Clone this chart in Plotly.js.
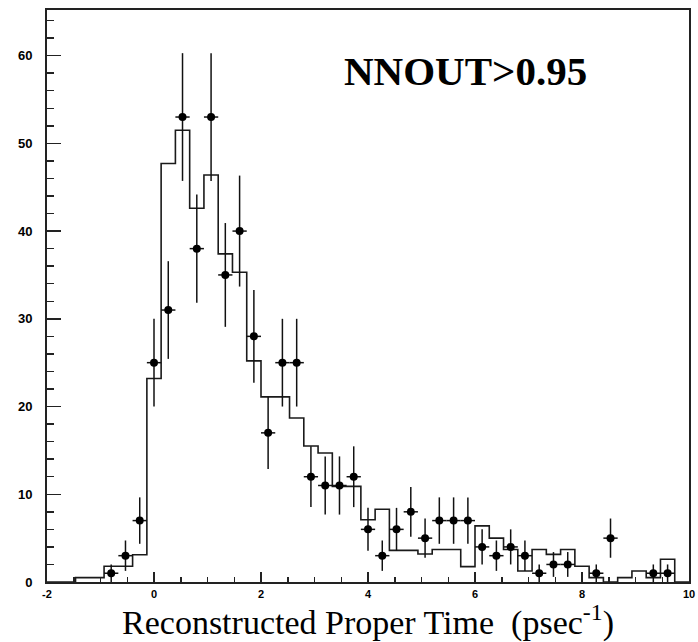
<!DOCTYPE html>
<html>
<head>
<meta charset="utf-8">
<script src="https://cdn.plot.ly/plotly-3.0.1.min.js"></script>
<style>
  html, body { margin: 0; padding: 0; background: #fff; }
  #chart { width: 698px; height: 642px; }
</style>
</head>
<body>
<div id="chart"></div>
<script>
// Histogram binning (45 bins from -2 to 10 psec)
const binStart = -2;
const binEnd = 10;
const nBins = 45;

// Monte Carlo expectation (step histogram), one value per bin
const mcCounts = [
  0, 0, 0.5, 0.5, 1.8, 1.8, 3.1, 23.2, 47.7, 51.5,
  42.6, 46.4, 37.4, 35.3, 25.2, 21.1, 21.1, 18.7, 15.5, 14.7,
  10.9, 10.9, 7.1, 8.3, 3.6, 3.6, 3.2, 3.7, 3.7, 1.75,
  6.4, 5.0, 3.7, 1.25, 3.7, 3.15, 3.7, 1.8, 0.5, 0,
  0.5, 1.25, 0.5, 2.6, 0
];

// Data points: bin centres (psec) and event counts
const dataTime = [
  -0.8, -0.533, -0.267, 0.0, 0.267, 0.533, 0.8, 1.067, 1.333, 1.6,
  1.867, 2.133, 2.4, 2.667, 2.933, 3.2, 3.467, 3.733, 4.0, 4.267,
  4.533, 4.8, 5.067, 5.333, 5.6, 5.867, 6.133, 6.4, 6.667, 6.933,
  7.2, 7.467, 7.733, 8.267, 8.533, 9.333, 9.6
];
const dataCounts = [
  1, 3, 7, 25, 31, 53, 38, 53, 35, 40,
  28, 17, 25, 25, 12, 11, 11, 12, 6, 3,
  6, 8, 5, 7, 7, 7, 4, 3, 4, 3,
  1, 2, 2, 1, 5, 1, 1
];

// Tick labels
const xTickVals = [-2, 0, 2, 4, 6, 8, 10];
const xTickText = ['-2', '0', '2', '4', '6', '8', '10'];
const yTickVals = [0, 10, 20, 30, 40, 50, 60];
const yTickText = ['0', '10', '20', '30', '40', '50', '60'];

const xTitle = 'Reconstructed Proper Time  (psec<sup>-1</sup>)';
const cutLabel = 'NNOUT>0.95';

// ---- build traces ----
const binWidth = (binEnd - binStart) / nBins;
const edges = [];
for (let i = 0; i <= nBins; i++) edges.push(binStart + i * binWidth);
const stepY = mcCounts.concat([mcCounts[mcCounts.length - 1]]);

const mcTrace = {
  type: 'scatter', mode: 'lines',
  x: edges, y: stepY,
  line: { shape: 'hv', color: '#1a1a1a', width: 1.6 },
  hoverinfo: 'skip', showlegend: false
};

const dataTrace = {
  type: 'scatter', mode: 'markers',
  x: dataTime, y: dataCounts,
  marker: { color: '#000', size: 8, symbol: 'circle' },
  error_y: { type: 'data', array: dataCounts.map(v => Math.sqrt(v)), width: 0, thickness: 1.5, color: '#111' },
  error_x: { type: 'constant', value: binWidth / 2, width: 0, thickness: 1.5, color: '#111' },
  showlegend: false
};

const sansFamily = 'Liberation Sans, Arial, sans-serif';
const serifFamily = 'Liberation Serif, Times New Roman, serif';

const layout = {
  width: 698, height: 642,
  paper_bgcolor: '#fff', plot_bgcolor: '#fff',
  margin: { l: 47, r: 9, t: 10, b: 60, pad: 0 },
  showlegend: false,
  xaxis: {
    range: [binStart, binEnd],
    tickmode: 'array', tickvals: xTickVals, ticktext: xTickText,
    ticks: 'inside', ticklen: 10, tickwidth: 1.5, tickcolor: '#222',
    minor: { dtick: 0.5, tick0: 0, ticks: 'inside', ticklen: 5, tickwidth: 1.5, tickcolor: '#222', showgrid: false },
    showline: true, linecolor: '#222', linewidth: 2, mirror: true,
    showgrid: false, zeroline: false,
    tickfont: { family: sansFamily, size: 11, color: '#000', weight: 'bold' },
    ticklabelstandoff: 1,
    title: { text: xTitle, font: { family: serifFamily, size: 34, color: '#000' }, standoff: 3 },
    automargin: false
  },
  yaxis: {
    range: [0, 65.2],
    tickmode: 'array', tickvals: yTickVals, ticktext: yTickText,
    ticks: 'inside', ticklen: 14, tickwidth: 1.5, tickcolor: '#222',
    minor: { dtick: 2, tick0: 0, ticks: 'inside', ticklen: 7, tickwidth: 1.5, tickcolor: '#222', showgrid: false },
    showline: true, linecolor: '#222', linewidth: 2, mirror: true,
    showgrid: false, zeroline: false,
    tickfont: { family: sansFamily, size: 13, color: '#000', weight: 'bold' },
    ticklabelstandoff: 10,
    automargin: false
  },
  annotations: [{
    text: cutLabel, xref: 'paper', yref: 'paper',
    x: 0.6526, y: 0.894, xanchor: 'center', yanchor: 'middle',
    showarrow: false,
    font: { family: serifFamily, size: 41, color: '#000', weight: 'bold' }
  }]
};

Plotly.newPlot('chart', [mcTrace, dataTrace], layout, { displayModeBar: false, staticPlot: true });
</script>
</body>
</html>
